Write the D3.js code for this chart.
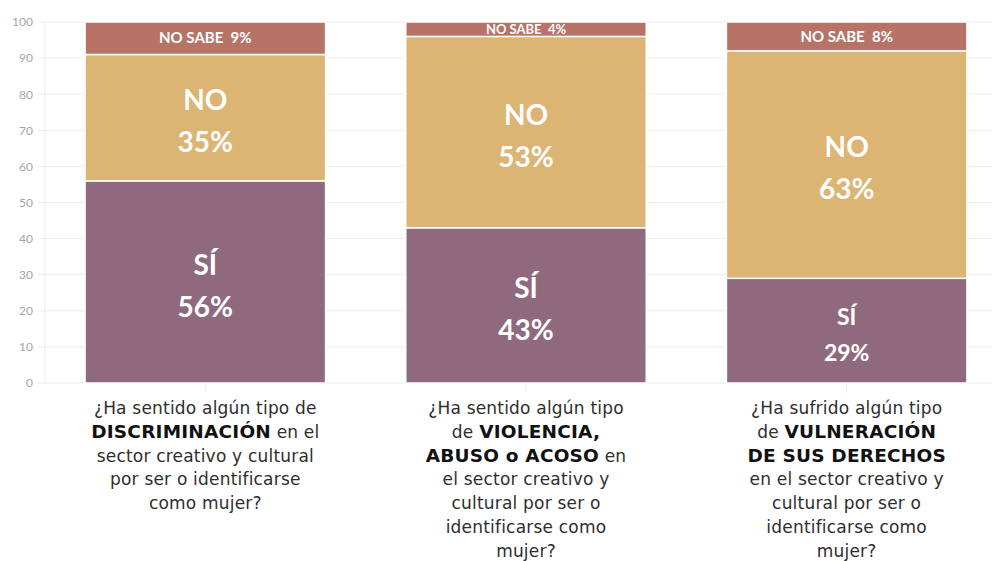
<!DOCTYPE html>
<html>
<head>
<meta charset="utf-8">
<script src="https://cdn.jsdelivr.net/npm/d3@7"></script>
<style>
  body { margin: 0; background: #fff; }
  svg { display: block; }
</style>
</head>
<body>
<script>
"use strict"

const categories = ['discriminacion', 'violencia', 'vulneracion']
const si = [56, 43, 29]
const no = [35, 53, 63]
const noSabe = [9, 4, 8]
const yTicks = [0, 10, 20, 30, 40, 50, 60, 70, 80, 90, 100]

// question text, each line is a list of [text, bold]
const questions = [
   [
      [['¿Ha sentido algún tipo de', false]],
      [['DISCRIMINACIÓN', true], [' en el', false]],
      [['sector creativo y cultural', false]],
      [['por ser o identificarse', false]],
      [['como mujer?', false]]
   ],
   [
      [['¿Ha sentido algún tipo', false]],
      [['de ', false], ['VIOLENCIA,', true]],
      [['ABUSO o ACOSO', true], [' en', false]],
      [['el sector creativo y', false]],
      [['cultural por ser o', false]],
      [['identificarse como', false]],
      [['mujer?', false]]
   ],
   [
      [['¿Ha sufrido algún tipo', false]],
      [['de ', false], ['VULNERACIÓN', true]],
      [['DE SUS DERECHOS', true]],
      [['en el sector creativo y', false]],
      [['cultural por ser o', false]],
      [['identificarse como', false]],
      [['mujer?', false]]
   ]
]

const w = 992
const h = 561
const plotTop = 22
const plotBottom = 383
const plotLeft = 45

const rows = categories.map((c, i) => ({ key: c, si: si[i], no: no[i], noSabe: noSabe[i] }))
const stack = d3.stack().keys(['si', 'no', 'noSabe'])(rows)

const colors = { si: '#8f6a7e', no: '#dcb474', noSabe: '#b87367' }
const names = { si: 'SÍ', no: 'NO', noSabe: 'NO SABE' }

const x = d3.scaleBand(categories, [plotLeft, plotLeft + 962]).paddingInner(0.25).paddingOuter(0.125)
const y = d3.scaleLinear([0, 100], [plotBottom, plotTop])

const svg = d3.select('body')
   .append('svg')
      .attr('width', w)
      .attr('height', h)

// grid
svg.append('g')
   .selectAll('line')
   .data(yTicks)
   .enter()
   .append('line')
      .attr('x1', plotLeft - 7)
      .attr('x2', w)
      .attr('y1', d => y(d))
      .attr('y2', d => y(d))
      .attr('stroke', '#ececec')
      .attr('stroke-width', 1)

svg.append('line')
   .attr('x1', plotLeft).attr('x2', plotLeft)
   .attr('y1', plotTop).attr('y2', plotBottom)
   .attr('stroke', '#ececec')

const yAxis = svg.append('g')
   .attr('transform', `translate(${plotLeft - 12}, 0)`)
   .call(d3.axisLeft(y).tickValues(yTicks).tickSize(0).tickPadding(0))
yAxis.select('.domain').remove()
yAxis.selectAll('text')
   .attr('fill', '#a6a6a6')
   .style('font-family', 'Lato, sans-serif')
   .style('font-size', '12px')

const xAxis = svg.append('g')
   .attr('transform', `translate(0, ${plotBottom})`)
   .call(d3.axisBottom(x).tickSize(10).tickFormat(''))
xAxis.select('.domain').remove()
xAxis.selectAll('line').attr('stroke', '#ececec')

// bars
const layers = svg.selectAll('.layer')
   .data(stack)
   .enter()
   .append('g')
      .attr('class', 'layer')
      .attr('fill', d => colors[d.key])

layers.selectAll('rect')
   .data(d => d)
   .enter()
   .append('rect')
      .attr('x', d => x(d.data.key))
      .attr('y', d => y(d[1]))
      .attr('width', x.bandwidth())
      .attr('height', d => y(d[0]) - y(d[1]))
      .attr('stroke', '#fff')
      .attr('stroke-width', 1.5)

// labels inside bars
stack.forEach(layer => {
   layer.forEach(d => {
      const v = d[1] - d[0]
      const cx = x(d.data.key) + x.bandwidth() / 2
      const cy = y((d[0] + d[1]) / 2)
      const t = svg.append('text')
         .attr('text-anchor', 'middle')
         .attr('fill', '#fff')
         .style('font-family', 'Lato, sans-serif')
         .style('font-weight', 'bold')
         .style('white-space', 'pre')
      if (layer.key === 'noSabe') {
         t.attr('x', cx)
            .attr('y', cy)
            .attr('dy', '0.35em')
            .style('font-size', v < 6 ? '13px' : '15px')
            .text(`${names[layer.key]}  ${v}%`)
      } else {
         const fs = v < 35 ? 23 : 28
         const gap = v < 35 ? 36 : 42
         t.style('font-size', fs + 'px')
         t.append('tspan')
            .attr('x', cx)
            .attr('y', cy - gap / 2 + 4)
            .attr('dy', '0.35em')
            .text(names[layer.key])
         t.append('tspan')
            .attr('x', cx)
            .attr('y', cy + gap / 2 + 4)
            .attr('dy', '0.35em')
            .text(`${v}%`)
      }
   })
})

// question labels
categories.forEach((c, i) => {
   const cx = x(c) + x.bandwidth() / 2
   const t = svg.append('text')
      .attr('text-anchor', 'middle')
      .attr('fill', '#2e2e2e')
      .style('font-family', 'DejaVu Sans, sans-serif')
      .style('font-size', '17px')
      .style('letter-spacing', '0.2px')
   questions[i].forEach((line, j) => {
      const ln = t.append('tspan')
         .attr('x', cx)
         .attr('y', 414 + j * 23.8)
      line.forEach(([txt, bold]) => {
         ln.append('tspan')
            .style('font-weight', bold ? 'bold' : 'normal')
            .style('font-size', bold ? '18.5px' : null)
            .attr('fill', bold ? '#111' : null)
            .text(txt)
      })
   })
})
</script>
</body>
</html>
